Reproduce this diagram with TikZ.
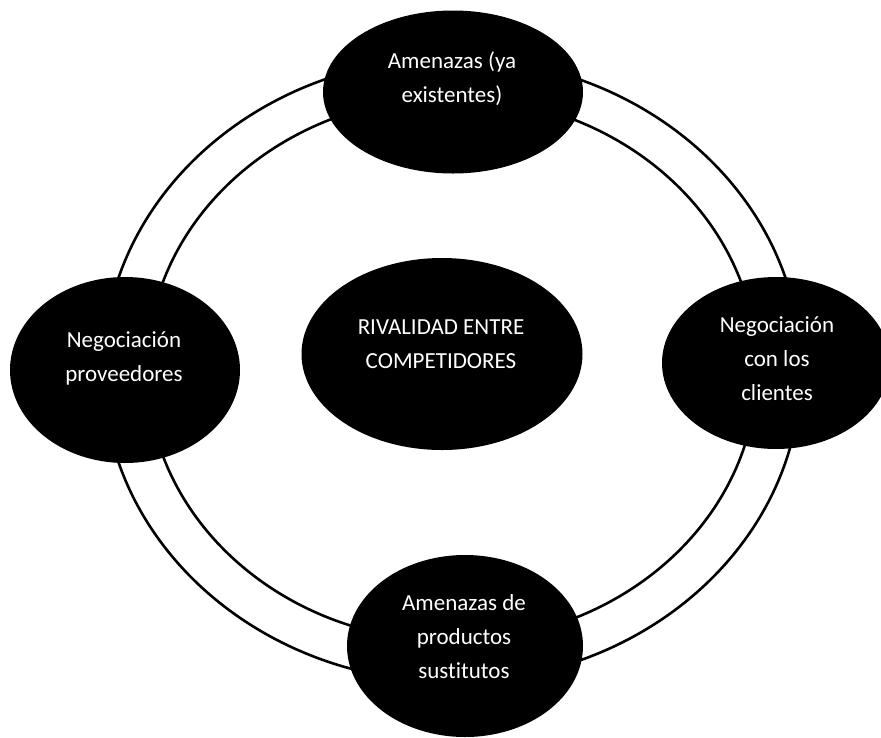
\documentclass[tikz,border=0pt]{standalone}
\usepackage{fontspec}
\setmainfont{Carlito}[Ligatures=CommonOff]
\usetikzlibrary{shapes.geometric}
\begin{document}
\begin{tikzpicture}[x=1pt,y=-1pt,
  ring/.style={ellipse, draw=black, line width=2.6pt, inner sep=0pt, outer sep=0pt},
  blob/.style={ellipse, fill=black, draw=none, inner sep=0pt, outer sep=0pt},
  lbl/.style={text=white, align=center, inner sep=0pt, font=\fontsize{23}{34}\selectfont}
]
\useasboundingbox[fill=white] (0,0) rectangle (881,737);
% ring
\node[ring, minimum width=698pt, minimum height=624pt] (outer) at (452,370) {};
\node[ring, minimum width=610pt, minimum height=544pt] (inner) at (452,369) {};
% ellipses
\node[blob, minimum width=260pt, minimum height=163pt] (top) at (453,92) {};
\node[blob, minimum width=230pt, minimum height=186pt] (left) at (125,370) {};
\node[blob, minimum width=228pt, minimum height=172pt] (right) at (776,363) {};
\node[blob, minimum width=236pt, minimum height=182pt] (bottom) at (465,646) {};
\node[blob, minimum width=281pt, minimum height=192pt] (center) at (442,354) {};
% labels
\node[lbl] (ttop) at (452,78.6) {\strut Amenazas (ya\\\strut existentes)};
\node[lbl] (tleft) at (124,357.6) {\strut Negociación\\\strut proveedores};
\node[lbl] (tright) at (777,359.6) {\strut Negociación\\\strut con los\\\strut clientes};
\node[lbl] (tbottom) at (464,637.6) {\strut Amenazas de\\\strut productos\\\strut sustitutos};
\node[lbl] (tcenter) at (441,344.6) {\strut RIVALIDAD ENTRE\\\strut COMPETIDORES};
\end{tikzpicture}
\end{document}
